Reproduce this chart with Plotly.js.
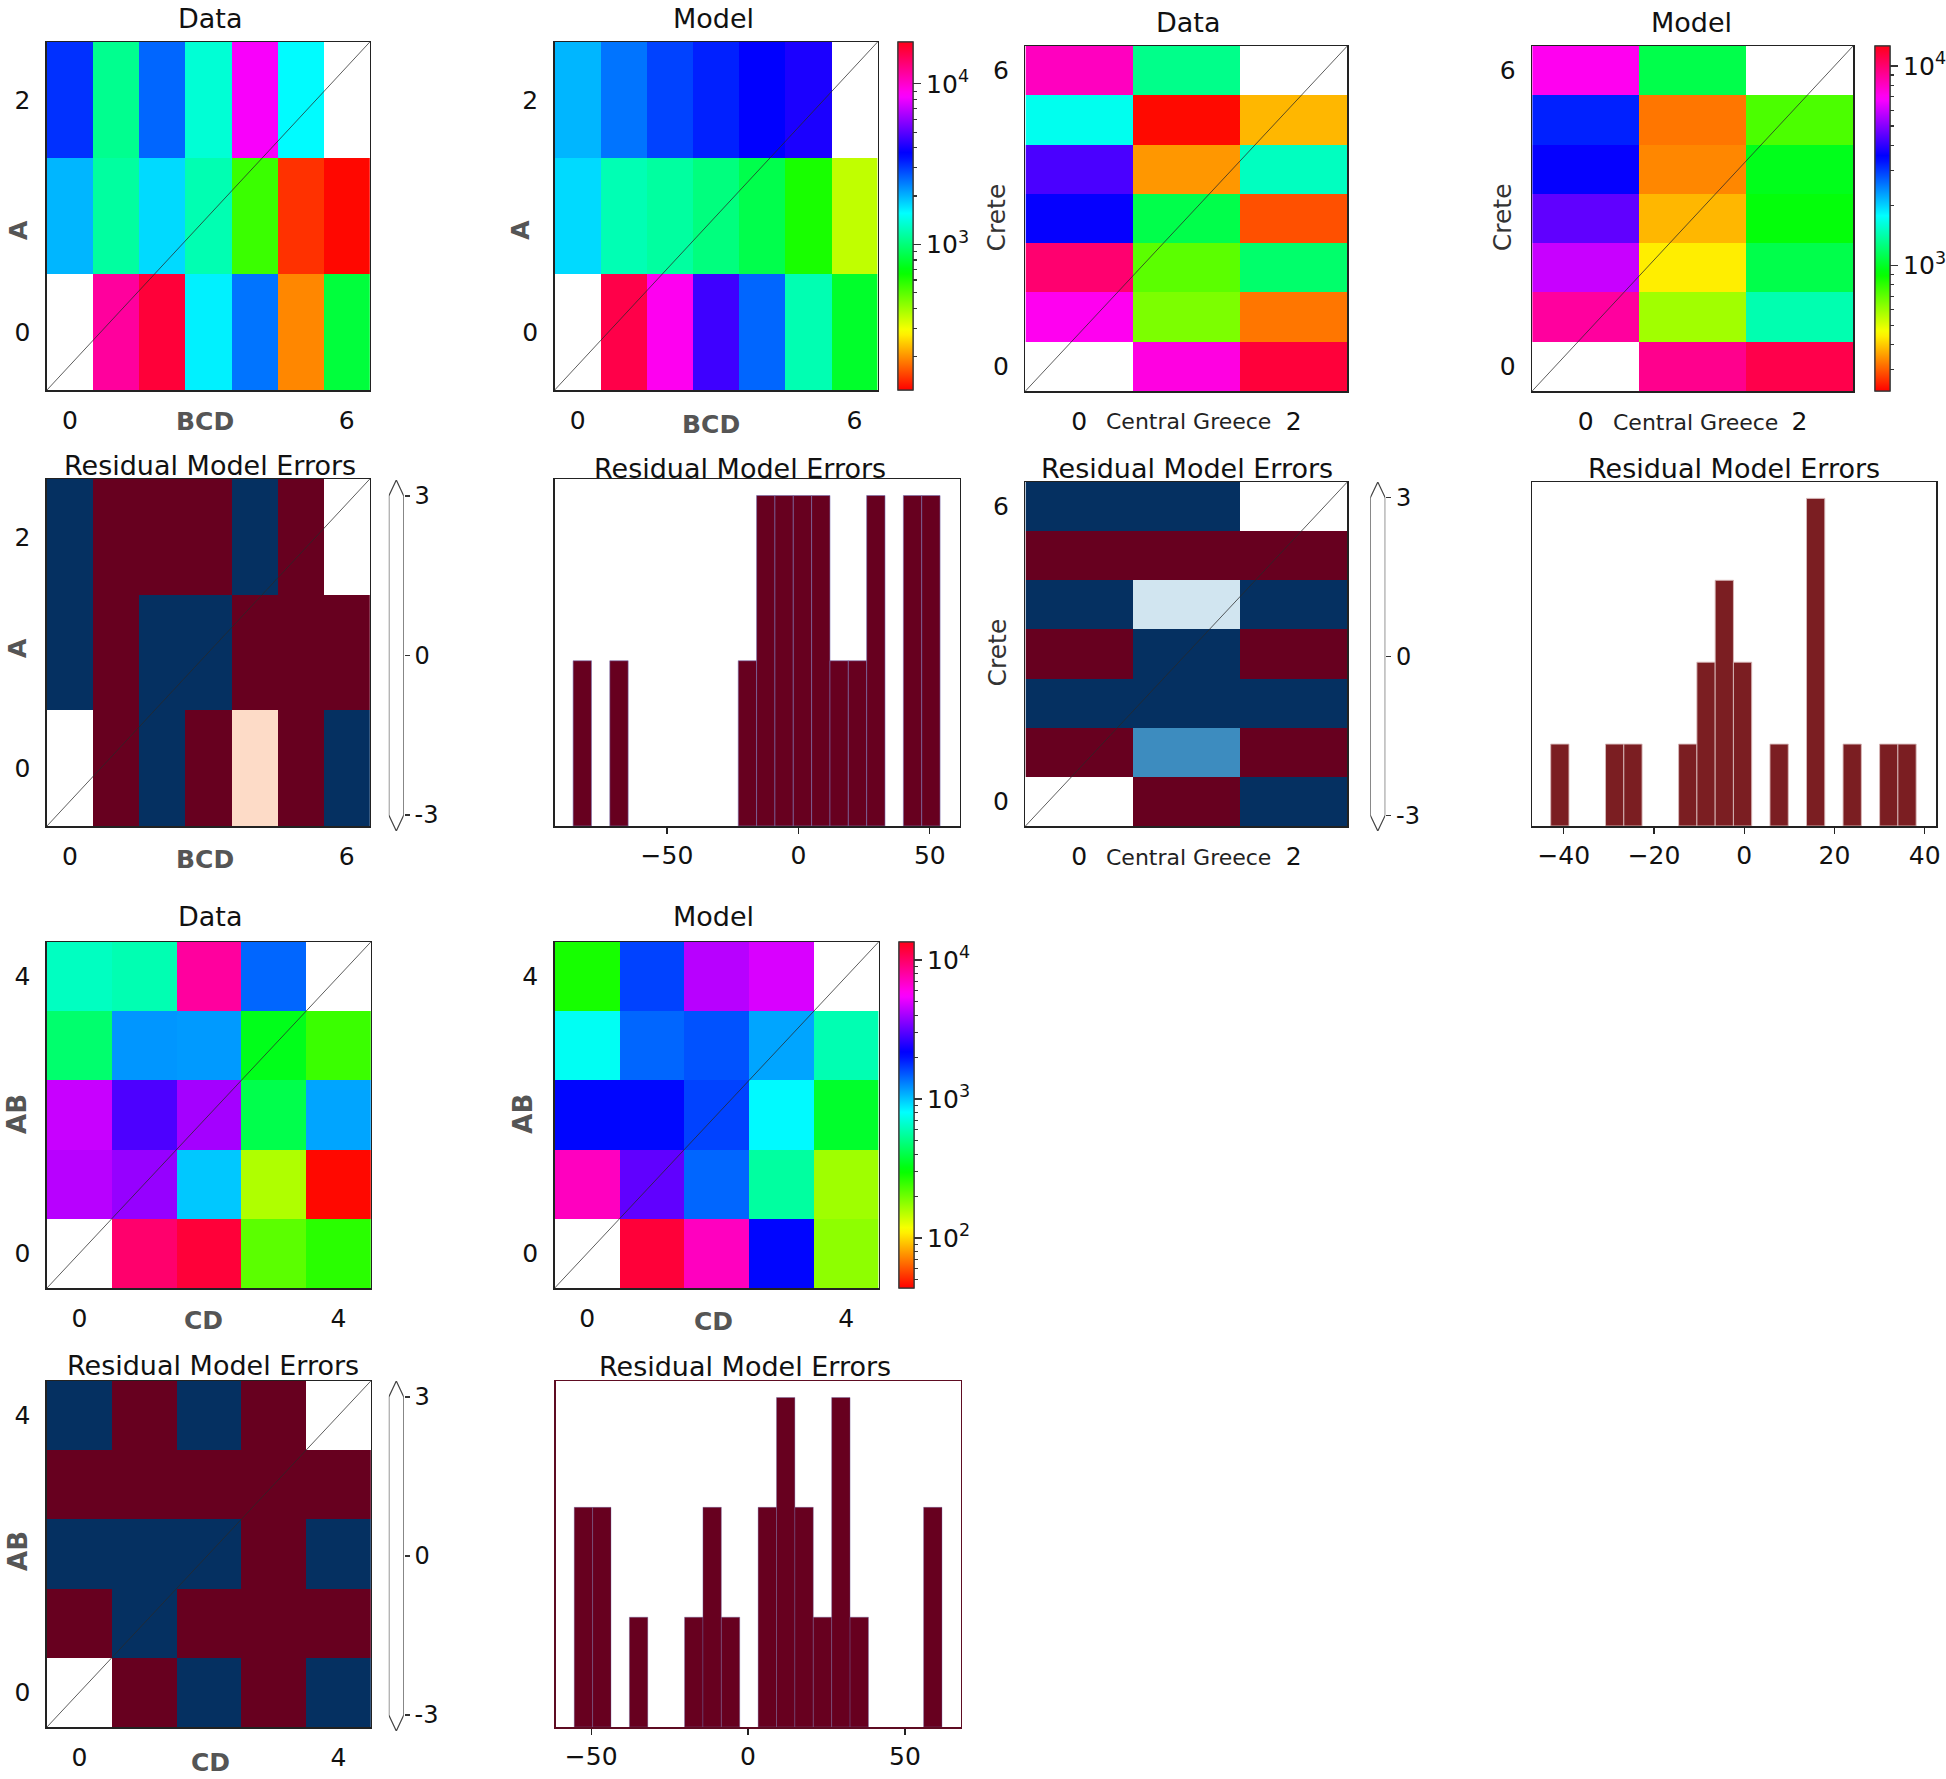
<!DOCTYPE html>
<html><head><meta charset="utf-8">
<script src="https://cdn.plot.ly/plotly-3.0.1.min.js"></script>
<style>body{margin:0;background:#fff}#chart{width:1946px;height:1779px}</style>
</head><body><div id="chart"></div>
<script>
// ---------------- data (row index 0 = bottom row) ----------------
const bcdTicks = [0,1,2,3,4,5,6];
const aTicks = [0,1,2];
const centralGreeceTicks = [0,1,2];
const creteTicks = [0,1,2,3,4,5,6];
const cdTicks = [0,1,2,3,4];
const abTicks = [0,1,2,3,4];

const dataBCD = [
  [null, 11700, 16300, 1640, 2480, 194, 820],
  [1990, 1140, 1770, 1210, 555, 146, 127],
  [3100, 1080, 2600, 1360, 8400, 1580, null]
];
const modelBCD = [
  [null, 15450, 8870, 4550, 2600, 1210, 775],
  [1770, 1220, 1140, 1020, 865, 620, 356],
  [1990, 2480, 2920, 3270, 3740, 4070, null]
];
const residBCD = [
  [null, 28, -68, 10, 0.6, 43, -19],
  [-12, 7, -83, -5, 15, 49, 31],
  [-10, 22, 45, 3.5, -3, 52, null]
];

const dataCrete = [
  [null, 7400, 11500],
  [7100, 650, 320],
  [10000, 710, 1200],
  [3600, 1100, 290],
  [4300, 350, 1500],
  [1700, 240, 380],
  [8100, 1300, null]
];
const modelCrete = [
  [null, 9230, 11000],
  [8830, 590, 1440],
  [5930, 440, 1100],
  [4540, 380, 920],
  [3600, 335, 970],
  [3200, 320, 740],
  [7100, 1100, null]
];
const residCrete = [
  [null, 24, -41],
  [8, -1.9, 14.5],
  [-28.5, -24.5, -12],
  [15.5, -9, 16],
  [-7.5, -0.6, -5.5],
  [17, 32, 36],
  [-4, -3, null]
];

const dataCD = [
  [null, 9800, 11900, 215, 260],
  [4300, 3800, 990, 156, 45],
  [4560, 2900, 4000, 406, 1130],
  [460, 1200, 1180, 336, 244],
  [635, 600, 8100, 1440, null]
];
const modelCD = [
  [null, 11900, 7140, 2130, 177],
  [7140, 3110, 1440, 560, 166],
  [2130, 2100, 1650, 820, 360],
  [770, 1440, 1550, 1130, 600],
  [280, 1650, 4300, 4860, null]
];
const residCD = [
  [null, 23, -35, 11, -5],
  [19, -47, 57, 12, 28],
  [-53, -12, -17, 30, -10],
  [5, 7, 13.5, 31.5, 60],
  [-51, 17, -45, 35, null]
];

// colour ranges (log10)
const bcdLogRange = [2.094, 4.26];
const creteLogRange = [2.37, 4.10];
const cdLogRange = [1.64, 4.13];
const residRange = [-3, 3];

// histogram binning
const binsBCD = {start: -85.7, end: 53.9, size: 6.98};
const binsCrete = {start: -42.9, end: 38.1, size: 4.05};
const binsCD = {start: -55.4, end: 61.8, size: 5.86};

// ---------------- helpers ----------------
const W = 1946, H = 1779;
const FONT = 'DejaVu Sans';
const TICKSIZE = 25;
const xdom = (a, b) => [a / W, b / W];
const ydom = (t, b) => [1 - b / H, 1 - t / H];
const px = v => v / W;
const py = v => 1 - v / H;
const ax = i => (i === 1 ? '' : String(i));

const hsvScale = [
  [0, 'rgb(255,0,0)'], [0.15873, 'rgb(255,239,0)'], [0.174603, 'rgb(247,255,0)'],
  [0.333333, 'rgb(8,255,0)'], [0.349206, 'rgb(0,255,16)'], [0.507937, 'rgb(0,255,255)'],
  [0.666667, 'rgb(0,16,255)'], [0.68254, 'rgb(0,0,255)'], [0.84127, 'rgb(247,0,255)'],
  [0.857143, 'rgb(255,0,239)'], [1, 'rgb(255,0,24)']
];
const rdbuR = [
  [0, '#053061'], [0.1, '#2166ac'], [0.2, '#4393c3'], [0.3, '#92c5de'], [0.4, '#d1e5f0'],
  [0.5, '#f7f7f7'], [0.6, '#fddbc7'], [0.7, '#f4a582'], [0.8, '#d6604d'], [0.9, '#b2182b'], [1, '#67001f']
];

function logz(m) { return m.map(r => r.map(v => (v === null ? null : Math.log10(v)))); }
function flat(m) { const o = []; m.forEach(r => r.forEach(v => { if (v !== null) o.push(v); })); return o; }
function minorTicks(rg) {
  const o = [];
  for (let e = 1; e <= 4; e++) for (let d = 2; d <= 9; d++) {
    const l = Math.log10(d * Math.pow(10, e));
    if (l > rg[0] && l < rg[1]) o.push(l);
  }
  return o;
}
function majorTicks(rg) { return [1, 2, 3, 4, 5].filter(e => e >= rg[0] && e <= rg[1]); }

function cbar(xp, top, bot, vals, texts, len, showLabels) {
  const c = {
    x: px(xp), xanchor: 'left', xpad: 0,
    y: 1 - (top + bot) / 2 / H, yanchor: 'middle', ypad: 0,
    len: bot - top, lenmode: 'pixels', thickness: 15, thicknessmode: 'pixels',
    outlinewidth: 1.2, outlinecolor: '#333',
    tickmode: 'array', tickvals: vals,
    ticks: 'outside', ticklen: len, tickwidth: 1.2, tickcolor: '#333',
    showticklabels: showLabels,
    tickfont: {family: FONT, size: 25, color: '#111'}
  };
  if (texts) c.ticktext = texts;
  return c;
}

const traces = [];
const layout = {
  width: W, height: H, margin: {l: 0, r: 0, t: 0, b: 0},
  paper_bgcolor: '#fff', plot_bgcolor: '#fff', showlegend: false, bargap: 0,
  font: {family: FONT, size: TICKSIZE, color: '#111'},
  annotations: [], shapes: []
};

function heatPanel(i, xr, yr, nx, ny) {
  layout['xaxis' + ax(i)] = {
    domain: xdom(xr[0], xr[1]), anchor: 'y' + ax(i), range: [-0.5, nx - 0.5],
    tickmode: 'array', tickvals: [0, nx - 1], ticktext: ['0', String(nx - 1)],
    ticks: 'outside', ticklen: 7, tickcolor: 'rgba(0,0,0,0)',
    showgrid: false, zeroline: false, showline: true, mirror: true,
    linecolor: '#222', linewidth: 1.5, tickfont: {size: TICKSIZE, color: '#111'}, fixedrange: true
  };
  layout['yaxis' + ax(i)] = {
    domain: ydom(yr[0], yr[1]), anchor: 'x' + ax(i), range: [-0.5, ny - 0.5],
    tickmode: 'array', tickvals: [0, ny - 1], ticktext: ['0', String(ny - 1)],
    ticks: 'outside', ticklen: 10, tickcolor: 'rgba(0,0,0,0)',
    showgrid: false, zeroline: false, showline: true, mirror: true,
    linecolor: '#222', linewidth: 1.5, tickfont: {size: TICKSIZE, color: '#111'}, fixedrange: true
  };
  layout.shapes.push({
    type: 'line', xref: 'x' + ax(i) + ' domain', yref: 'y' + ax(i) + ' domain',
    x0: 0, y0: 0, x1: 1, y1: 1, line: {color: 'rgba(40,40,40,0.75)', width: 1}
  });
}

function histPanel(i, xr, yr, xrange, ymax, tickv, frameColor) {
  layout['xaxis' + ax(i)] = {
    domain: xdom(xr[0], xr[1]), anchor: 'y' + ax(i), range: xrange,
    tickmode: 'array', tickvals: tickv, ticks: 'outside', ticklen: 6, tickwidth: 1.2, tickcolor: '#222',
    showgrid: false, zeroline: false, showline: true, mirror: true,
    linecolor: frameColor, linewidth: 1.5, tickfont: {size: TICKSIZE, color: '#111'}, fixedrange: true
  };
  layout['yaxis' + ax(i)] = {
    domain: ydom(yr[0], yr[1]), anchor: 'x' + ax(i), range: [0, ymax],
    showticklabels: false, ticks: '', showgrid: false, zeroline: false,
    showline: true, mirror: true, linecolor: frameColor, linewidth: 1.5, fixedrange: true
  };
}

function residBar(i, xr, yr) {
  layout['xaxis' + i] = {domain: xdom(xr[0], xr[1]), anchor: 'y' + i, range: [0, 1], visible: false, fixedrange: true};
  layout['yaxis' + i] = {
    domain: ydom(yr[0], yr[1]), anchor: 'x' + i, range: [-3.3, 3.3], side: 'right',
    tickmode: 'array', tickvals: [-3, 0, 3], ticktext: ['-3', '0', '3'],
    ticks: 'outside', ticklen: 5, tickwidth: 1.2, tickcolor: '#333',
    showline: false, showgrid: false, zeroline: false, tickfont: {size: 24, color: '#111'}, fixedrange: true
  };
  traces.push({type: 'scatter', x: [], y: [], xaxis: 'x' + i, yaxis: 'y' + i, hoverinfo: 'skip', showlegend: false});
  layout.shapes.push({
    type: 'path', xref: 'x' + i, yref: 'y' + i,
    path: 'M0,-3 L0,3 L0.5,3.3 L1,3 L1,-3 L0.5,-3.3 Z',
    fillcolor: '#fff', line: {color: '#444', width: 1.2}
  });
}

function heat(i, xs, ys, z, scale, zr, extra) {
  return Object.assign({
    type: 'heatmap', x: xs, y: ys, z: z, colorscale: scale, zmin: zr[0], zmax: zr[1],
    xaxis: 'x' + ax(i), yaxis: 'y' + ax(i), hoverinfo: 'skip', showscale: false
  }, extra || {});
}

function logBars(i, xs, ys, dataM, modelM, rg, cbx, top, bot) {
  const minors = minorTicks(rg);
  const majors = majorTicks(rg);
  traces.push(heat(i, xs, ys, logz(dataM), hsvScale, rg,
    {showscale: true, colorbar: cbar(cbx, top, bot, minors, null, 4, false)}));
  traces.push(heat(i + 1, xs, ys, logz(modelM), hsvScale, rg,
    {showscale: true, colorbar: cbar(cbx, top, bot, majors, majors.map(e => '10<sup>' + e + '</sup>'), 8, true)}));
}

// ---------------- panels ----------------
// Row 1: BCD x A
heatPanel(1, [47, 370], [42, 390], 7, 3);
heatPanel(2, [555, 878], [42, 390], 7, 3);
logBars(1, bcdTicks, aTicks, dataBCD, modelBCD, bcdLogRange, 898, 42, 390);
// Row 1: Central Greece x Crete
heatPanel(3, [1026, 1348], [46, 391], 3, 7);
heatPanel(4, [1533, 1854], [46, 391], 3, 7);
logBars(3, centralGreeceTicks, creteTicks, dataCrete, modelCrete, creteLogRange, 1875, 46, 391);

// Row 2: residuals
heatPanel(5, [47, 370], [479, 826], 7, 3);
traces.push(heat(5, bcdTicks, aTicks, residBCD, rdbuR, residRange));
histPanel(6, [555, 960], [479, 826], [-92.7, 61.3], 2.1, [-50, 0, 50], '#222');
traces.push({type: 'histogram', x: flat(residBCD), xbins: binsBCD, xaxis: 'x6', yaxis: 'y6',
  marker: {color: '#67001f', line: {color: 'rgba(120,110,175,0.75)', width: 0.8}}, hoverinfo: 'skip'});
heatPanel(7, [1026, 1348], [482, 826], 3, 7);
traces.push(heat(7, centralGreeceTicks, creteTicks, residCrete, rdbuR, residRange));
histPanel(8, [1533, 1937], [482, 826], [-47, 42.5], 4.2, [-40, -20, 0, 20, 40], '#222');
traces.push({type: 'histogram', x: flat(residCrete), xbins: binsCrete, xaxis: 'x8', yaxis: 'y8',
  marker: {color: '#7b1e22', line: {color: 'rgba(215,185,185,0.9)', width: 1}}, hoverinfo: 'skip'});

// Row 3: CD x AB
heatPanel(9, [47, 371], [942, 1288], 5, 5);
heatPanel(10, [555, 879], [942, 1288], 5, 5);
logBars(9, cdTicks, abTicks, dataCD, modelCD, cdLogRange, 899, 942, 1288);

// Row 4: residuals CD
heatPanel(11, [47, 371], [1381, 1727], 5, 5);
traces.push(heat(11, cdTicks, abTicks, residCD, rdbuR, residRange));
histPanel(12, [556, 961], [1381, 1727], [-61.3, 67.7], 3.15, [-50, 0, 50], '#5e0c22');
traces.push({type: 'histogram', x: flat(residCD), xbins: binsCD, xaxis: 'x12', yaxis: 'y12',
  marker: {color: '#67001f', line: {color: 'rgba(110,100,165,0.6)', width: 0.6}}, hoverinfo: 'skip'});

// residual colour bars
residBar(13, [389, 404], [480, 831]);
residBar(14, [1371, 1386], [482, 831]);
residBar(15, [389, 404], [1381, 1731]);

// ---------------- text ----------------
function txt(t, x, y, size, color, angle) {
  layout.annotations.push({
    text: t, x: px(x), y: py(y), xref: 'paper', yref: 'paper', xanchor: 'center', yanchor: 'middle',
    showarrow: false, textangle: angle || 0, font: {family: FONT, size: size, color: color}
  });
}
const TS = 27;
txt('Data', 210, 18, TS, '#111'); txt('Model', 714, 18, TS, '#111');
txt('Data', 1189, 22, TS, '#111'); txt('Model', 1692, 22, TS, '#111');
txt('Residual Model Errors', 210, 465, TS, '#111');
txt('Residual Model Errors', 740, 468, TS, '#111');
txt('Residual Model Errors', 1188, 468, TS, '#111');
txt('Residual Model Errors', 1735, 468, TS, '#111');
txt('Data', 210, 917, TS, '#111'); txt('Model', 714, 917, TS, '#111');
txt('Residual Model Errors', 213, 1365, TS, '#111');
txt('Residual Model Errors', 745, 1366, TS, '#111');

const G = '#555';
txt('<b>BCD</b>', 205, 421, 25, G); txt('<b>A</b>', 19, 230, 25, G, -90);
txt('<b>BCD</b>', 711, 424, 25, G); txt('<b>A</b>', 521, 230, 25, G, -90);
txt('Central Greece', 1189, 421, 22, '#222'); txt('Crete', 998, 217, 25, '#333', -90);
txt('Central Greece', 1696, 422, 22, '#222'); txt('Crete', 1504, 217, 25, '#333', -90);
txt('<b>BCD</b>', 205, 860, 25, G); txt('<b>A</b>', 17, 648, 25, G, -90);
txt('Central Greece', 1189, 857, 22, '#222'); txt('Crete', 998, 652, 25, '#333', -90);
txt('<b>CD</b>', 204, 1320, 25, G); txt('<b>AB</b>', 17, 1114, 26, G, -90);
txt('<b>CD</b>', 714, 1321, 25, G); txt('<b>AB</b>', 523, 1114, 26, G, -90);
txt('<b>CD</b>', 211, 1762, 25, G); txt('<b>AB</b>', 18, 1551, 26, G, -90);

Plotly.newPlot('chart', traces, layout, {displayModeBar: false, staticPlot: true});
</script>
</body></html>
